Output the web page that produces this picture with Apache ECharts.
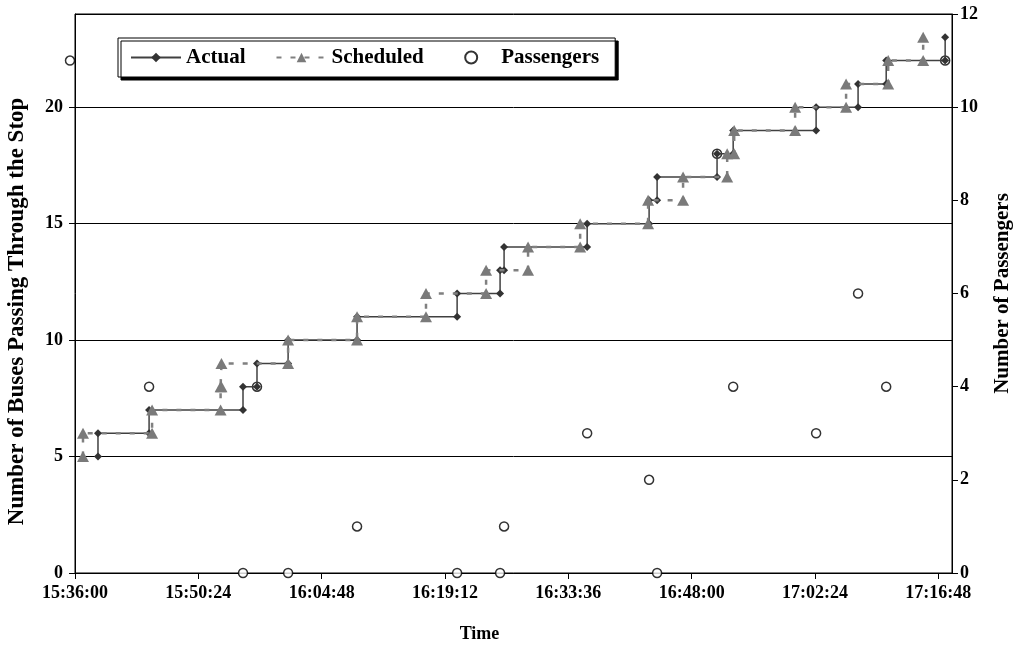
<!DOCTYPE html>
<html>
<head>
<meta charset="utf-8">
<script src="https://cdn.jsdelivr.net/npm/echarts@6/dist/echarts.min.js"></script>
<style>
html,body{margin:0;padding:0;background:#fff;}
#chart{width:1013px;height:648px;}
</style>
</head>
<body>
<div id="chart"></div>
<script>
// Bus count reached at each actual / scheduled passage
const busCounts = [6,7,8,9,10,11,12,13,14,15,16,17,18,19,20,21,22,23];
const actualTimes = ['15:38:41','15:44:39','15:55:37','15:57:15','16:00:53','16:08:56','16:20:37','16:25:38','16:26:06',
  '16:35:48','16:43:02','16:43:58','16:50:58','16:52:51','17:02:32','17:07:26','17:10:43','17:17:36'];
const scheduledTimes = ['15:36:56','15:45:00','15:53:00','15:53:06','16:00:53','16:08:56','16:16:59','16:24:00','16:28:54',
  '16:34:59','16:42:55','16:47:00','16:52:09','16:52:58','17:00:05','17:06:02','17:10:57','17:15:02'];
const passengerTimes = ['15:35:25','15:44:39','15:55:37','15:57:15','16:00:53','16:08:56','16:20:37','16:25:38','16:26:06',
  '16:35:48','16:43:02','16:43:58','16:50:58','16:52:51','17:02:32','17:07:26','17:10:43','17:17:36'];
const passengerCounts = [11,4,0,4,0,1,0,0,1,3,2,0,9,4,3,6,4,11];
const xRange = ['15:36:00','17:18:24'];
const xTickStep = 864; // 14:24 in seconds

function toSec(s){const p=s.split(':').map(Number);return p[0]*3600+p[1]*60+p[2];}
function fmt(v){const h=Math.floor(v/3600),m=Math.floor((v%3600)/60),s=Math.round(v%60);
  return h+':'+String(m).padStart(2,'0')+':'+String(s).padStart(2,'0');}
function steps(times){const out=[];times.forEach((t,i)=>{const x=toSec(t);out.push([x,busCounts[i]-1]);out.push([x,busCounts[i]]);});return out;}

const FONT='"Liberation Serif","Times New Roman",serif';
const chart=echarts.init(document.getElementById('chart'),null,{renderer:'canvas'});
chart.setOption({
  animation:false,
  backgroundColor:'#fff',
  textStyle:{fontFamily:FONT,color:'#000'},
  grid:{left:75,right:61,top:14,bottom:75,show:true,borderColor:'#000',borderWidth:1,backgroundColor:'transparent',
    containLabel:false,outerBoundsMode:'none'},
  legend:{
    left:118,top:38,orient:'horizontal',
    data:['Actual','Scheduled','Passengers'],
    formatter:function(n){return n==='Scheduled'?n+'\u00a0\u00a0':n;},
    itemWidth:50,itemHeight:12,itemGap:30,
    padding:[9,16,9,12],
    backgroundColor:'#fff',borderColor:'#000',borderWidth:1,
    shadowColor:'#000',shadowBlur:0,shadowOffsetX:3,shadowOffsetY:3,
    textStyle:{fontFamily:FONT,fontWeight:'bold',fontSize:21,color:'#000'}
  },
  xAxis:{
    type:'value',min:toSec(xRange[0]),max:toSec(xRange[1]),interval:xTickStep,
    name:'Time',nameLocation:'middle',nameGap:52,
    nameTextStyle:{fontFamily:FONT,fontWeight:'bold',fontSize:18,color:'#000',padding:[0,68,0,0]},
    axisLine:{show:true,lineStyle:{color:'#000',width:1}},
    axisTick:{show:true,inside:false,length:6,lineStyle:{color:'#000'}},
    axisLabel:{formatter:fmt,showMaxLabel:false,margin:11,fontFamily:FONT,fontWeight:'bold',fontSize:18,color:'#000'},
    splitLine:{show:false}
  },
  yAxis:[{
    type:'value',min:0,max:24,interval:5,position:'left',
    name:'Number of Buses Passing Through the Stop',nameLocation:'middle',nameGap:46,nameRotate:90,
    nameTextStyle:{fontFamily:FONT,fontWeight:'bold',fontSize:23,color:'#000',padding:[0,36,0,0]},
    axisLine:{show:true,lineStyle:{color:'#000',width:1}},
    axisTick:{show:true,length:6,lineStyle:{color:'#000'}},
    axisLabel:{showMaxLabel:false,margin:12,fontFamily:FONT,fontWeight:'bold',fontSize:18,color:'#000'},
    splitLine:{show:true,lineStyle:{color:'#000',width:1}}
  },{
    type:'value',min:0,max:12,interval:2,position:'right',
    name:'Number of Passengers',nameLocation:'middle',nameGap:40,nameRotate:90,
    nameTextStyle:{fontFamily:FONT,fontWeight:'bold',fontSize:21,color:'#000'},
    axisLine:{show:true,lineStyle:{color:'#000',width:1}},
    axisTick:{show:true,length:6,lineStyle:{color:'#000'}},
    axisLabel:{margin:8,fontFamily:FONT,fontWeight:'bold',fontSize:18,color:'#000'},
    splitLine:{show:false}
  }],
  series:[{
    name:'Passengers',type:'scatter',yAxisIndex:1,z:2,clip:false,
    data:passengerTimes.map((t,i)=>[toSec(t),passengerCounts[i]]),
    symbol:'circle',symbolSize:9,
    itemStyle:{color:'#fff',borderColor:'#000',borderWidth:1.5}
  },{
    name:'Actual',type:'line',yAxisIndex:0,z:3,
    data:steps(actualTimes),
    symbol:'diamond',symbolSize:8,showAllSymbol:true,
    lineStyle:{color:'#404040',width:1.5,type:'solid'},
    itemStyle:{color:'#333'}
  },{
    name:'Scheduled',type:'line',yAxisIndex:0,z:4,
    data:steps(scheduledTimes),
    symbol:'triangle',symbolSize:[12,11],showAllSymbol:true,
    lineStyle:{color:'#808080',width:2.5,type:[5,9]},
    itemStyle:{color:'#7a7a7a'}
  }]
});
</script>
</body>
</html>
